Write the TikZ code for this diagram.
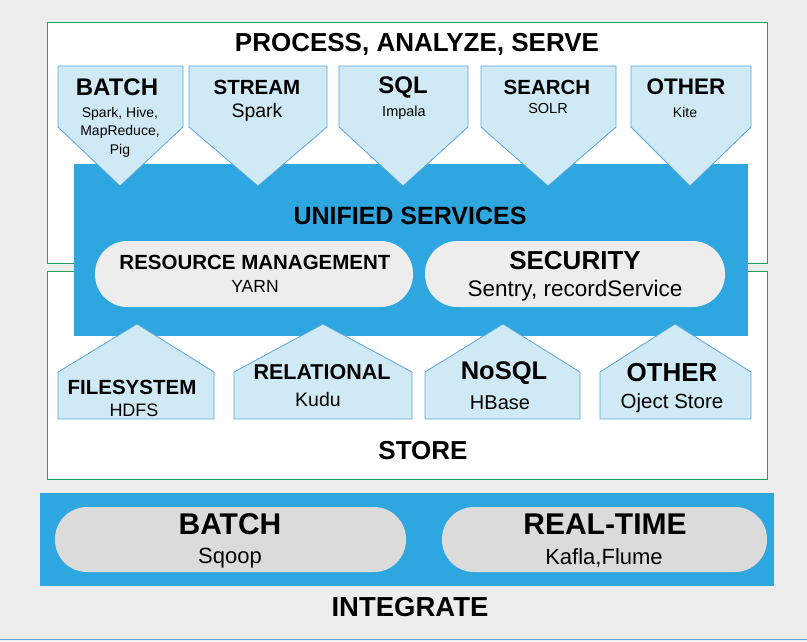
\documentclass[tikz,border=0pt]{standalone}
\usepackage{fontspec}
\setmainfont{Liberation Sans}
\definecolor{bg}{HTML}{EDEDED}
\definecolor{band}{HTML}{2EA6DF}
\definecolor{tile}{HTML}{CFE9F5}
\definecolor{tileline}{HTML}{5AA5DC}
\definecolor{frame}{HTML}{21A155}
\definecolor{pill}{HTML}{EDEDED}
\definecolor{pilldark}{HTML}{DBDBDB}
\newcommand{\fsz}[1]{\fontsize{#1}{#1}\selectfont}
\begin{document}
\begin{tikzpicture}[x=1pt, y=-1pt,
    every node/.style={inner sep=0pt},
    tile/.style={fill=tile, draw=tileline, line width=0.8pt},
    box/.style={fill=white, draw=frame, line width=1pt},
    head/.style={font=\bfseries\fsz{#1}},
    sub/.style={font=\fsz{#1}, align=center}]
    \useasboundingbox (0,0) rectangle (807,641);
    \fill[bg] (0,0) rectangle (807,641);
    \draw[tileline, line width=1.2pt] (0,639.5) -- (807,639.5);

    % the two white frames
    \draw[box] (47,22) rectangle (767,263);
    \draw[box] (47,271) rectangle (767,479);
    \node[head=26] (process) at (417,44) {PROCESS, ANALYZE, SERVE};
    \node[head=26] (store) at (423,451) {STORE};

    % unified services band
    \fill[band] (74,164) rectangle (748,336);
    \node[head=25] (unified) at (410,216) {UNIFIED SERVICES};
    \fill[pill, rounded corners=32.5pt] (95,241) rectangle (413,307);
    \fill[pill, rounded corners=32.5pt] (425,241) rectangle (725,307);
    \node[head=20.5] (resource) at (255,262) {RESOURCE MANAGEMENT};
    \node[sub=17.5] (yarn) at (255,286) {YARN};
    \node[head=26] (security) at (575,261) {SECURITY};
    \node[sub=22.5] (sentry) at (575,291) {Sentry, recordService};

    % process tiles, pointing down
    \foreach \a/\b/\t in {58/183/120, 189/327/258, 339/468/403, 481/616/548, 631/751/690}
        \draw[tile] (\a,66) -- (\b,66) -- (\b,127) -- (\t,186) -- (\a,127) -- cycle;
    \node[head=24] (batch) at (117,87) {BATCH};
    \node[sub=14, font=\fontsize{14}{18.5}\selectfont] (batchsub) at (120,132) {Spark, Hive,\\MapReduce,\\Pig};
    \node[head=20.5] (stream) at (257,87) {STREAM};
    \node[sub=19.5] (spark) at (257,112) {Spark};
    \node[head=24] (sql) at (403,87) {SQL};
    \node[sub=14.5] (impala) at (404,113) {Impala};
    \node[head=20.5] (search) at (547,87) {SEARCH};
    \node[sub=14.5] (solr) at (548,109) {SOLR};
    \node[head=22.5] (other) at (686,87) {OTHER};
    \node[sub=14] (kite) at (685,112) {Kite};

    % store tiles, pointing up
    \foreach \a/\b/\t in {58/214/137, 234/412/323, 425/580/503, 600/751/675}
        \draw[tile] (\a,419) -- (\a,372) -- (\t,324) -- (\b,372) -- (\b,419) -- cycle;
    \node[head=20.5] (filesys) at (132,387) {FILESYSTEM};
    \node[sub=18] (hdfs) at (134,410) {HDFS};
    \node[head=21.5] (relational) at (322,372) {RELATIONAL};
    \node[sub=19.5] (kudu) at (318,400) {Kudu};
    \node[head=25.5] (nosql) at (504,373) {NoSQL};
    \node[sub=20] (hbase) at (500,403) {HBase};
    \node[head=26] (otherstore) at (672,373) {OTHER};
    \node[sub=20.5] (object) at (672,403) {Oject Store};

    % integrate band
    \fill[band] (40,493) rectangle (774,586);
    \fill[pilldark, rounded corners=32pt] (55,507) rectangle (406,572);
    \fill[pilldark, rounded corners=32pt] (442,507) rectangle (767,572);
    \node[head=30] (batchin) at (230,524) {BATCH};
    \node[sub=22] (sqoop) at (230,558) {Sqoop};
    \node[head=30] (realtime) at (605,524) {REAL-TIME};
    \node[sub=22] (kafla) at (604,558) {Kafla,Flume};
    \node[head=27.5] (integrate) at (410,607) {INTEGRATE};
\end{tikzpicture}
\end{document}
